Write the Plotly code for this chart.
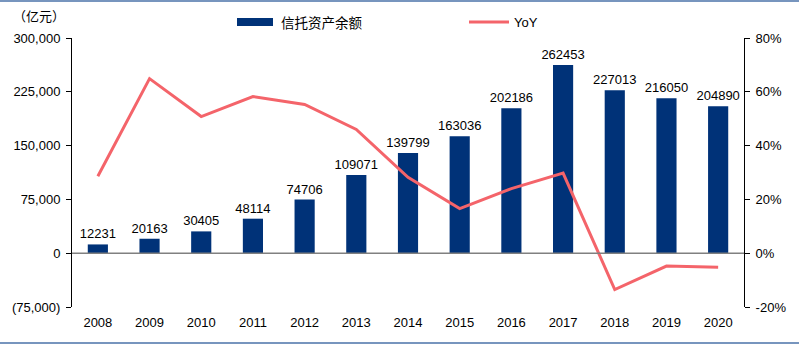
import plotly.graph_objects as go

years = ["2008", "2009", "2010", "2011", "2012", "2013", "2014",
         "2015", "2016", "2017", "2018", "2019", "2020"]
assets = [12231, 20163, 30405, 48114, 74706, 109071, 139799,
          163036, 202186, 262453, 227013, 216050, 204890]
yoy = [28.6, 64.9, 50.8, 58.2, 55.3, 46.0, 28.2,
       16.6, 24.0, 29.8, -13.5, -4.8, -5.2]

left_ticks = [-75000, 0, 75000, 150000, 225000, 300000]
left_ticktext = ["(75,000)", "0", "75,000", "150,000", "225,000", "300,000"]
right_ticks = [-20, 0, 20, 40, 60, 80]
right_ticktext = ["-20%", "0%", "20%", "40%", "60%", "80%"]

BAR_COLOR = "#003278"
LINE_COLOR = "#f4646a"
FONT = "Liberation Sans, Arial, sans-serif"
CJK = "Noto Sans CJK SC, sans-serif"

fig = go.Figure()
fig.add_trace(go.Bar(
    x=years, y=assets, name="信托资产余额",
    marker=dict(color=BAR_COLOR, line=dict(width=0)),
    text=[str(v) for v in assets], textposition="outside",
    textfont=dict(family=FONT, size=13, color="#000000"),
    constraintext="none",
    cliponaxis=False,
))
fig.add_trace(go.Scatter(
    x=years, y=yoy, name="YoY", yaxis="y2", mode="lines",
    line=dict(color=LINE_COLOR, width=3),
))

W, H = 799, 348
L, R, T, B = 72, 55, 38, 41
pw, ph = W - L - R, H - T - B


def px_x(x):
    return (x - L) / pw


def px_y(y):
    return (H - B - y) / ph


shapes = [
    dict(type="line", xref="paper", yref="y", x0=0, x1=1, y0=0, y1=0,
         line=dict(color="#808080", width=1.5)),
    dict(type="line", xref="paper", yref="paper", x0=px_x(0), x1=px_x(W),
         y0=px_y(1), y1=px_y(1), line=dict(color="#4a72a8", width=1.5)),
    dict(type="line", xref="paper", yref="paper", x0=px_x(0), x1=px_x(W),
         y0=px_y(343), y1=px_y(343), line=dict(color="#4a72a8", width=1.5)),
    dict(type="rect", xref="paper", yref="paper", x0=px_x(237), x1=px_x(273),
         y0=px_y(26), y1=px_y(18), fillcolor=BAR_COLOR, line=dict(width=0)),
    dict(type="line", xref="paper", yref="paper", x0=px_x(469), x1=px_x(509),
         y0=px_y(22), y1=px_y(22), line=dict(color=LINE_COLOR, width=3)),
]

annotations = [
    dict(text="信托资产余额", xref="paper", yref="paper", x=px_x(279), y=px_y(22),
         xanchor="left", yanchor="middle", showarrow=False,
         font=dict(family=CJK, size=13.5, color="#000000")),
    dict(text="YoY", xref="paper", yref="paper", x=px_x(512), y=px_y(22),
         xanchor="left", yanchor="middle", showarrow=False,
         font=dict(family=FONT, size=13, color="#000000")),
    dict(text="（亿元）", xref="paper", yref="paper", x=px_x(11), y=px_y(15),
         xanchor="left", yanchor="middle", showarrow=False,
         font=dict(family=CJK, size=13, color="#000000")),
]

fig.update_layout(
    width=W, height=H,
    margin=dict(l=L, r=R, t=T, b=B, pad=0),
    paper_bgcolor="white", plot_bgcolor="white",
    showlegend=False,
    bargap=0.61,
    font=dict(family=FONT, size=13, color="#000000"),
    xaxis=dict(showline=False, ticks="", showgrid=False, zeroline=False,
               tickfont=dict(family=FONT, size=13), ticklabelstandoff=6),
    yaxis=dict(range=[-75000, 300000], tickvals=left_ticks, ticktext=left_ticktext,
               showline=True, linecolor="#000000", linewidth=1,
               ticks="outside", ticklen=5, tickcolor="#000000",
               showgrid=False, zeroline=False,
               tickfont=dict(family=FONT, size=13), ticklabelstandoff=3),
    yaxis2=dict(range=[-20, 80], tickvals=right_ticks, ticktext=right_ticktext,
                overlaying="y", side="right",
                showline=True, linecolor="#000000", linewidth=1,
                ticks="outside", ticklen=5, tickcolor="#000000",
                showgrid=False, zeroline=False,
                tickfont=dict(family=FONT, size=13), ticklabelstandoff=3),
    shapes=shapes,
    annotations=annotations,
)

fig.write_html("out.html")
